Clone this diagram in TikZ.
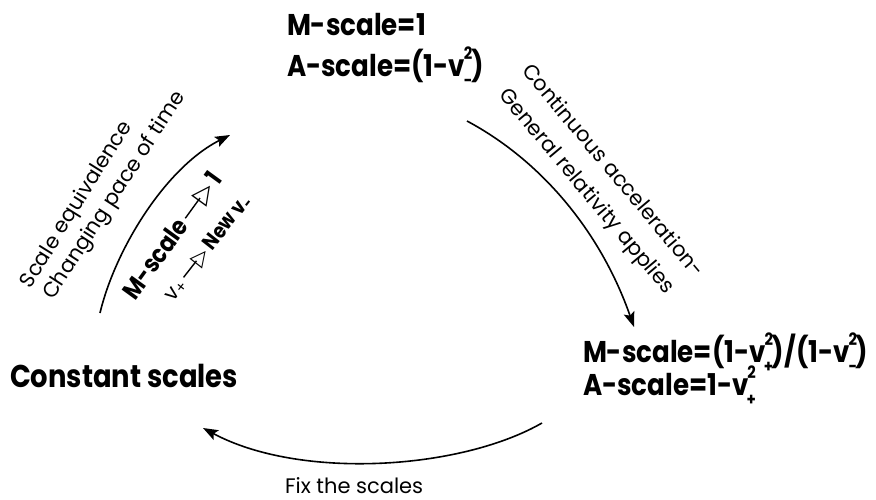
\documentclass[tikz,border=0pt]{standalone}
\usepackage{fontspec}
\setmainfont{Poppins}[BoldFeatures={FakeStretch=0.87}]
\newfontfamily\symfont{DejaVu Sans}
\usetikzlibrary{arrows.meta}
\newcommand\supsub[2]{\kern-0.04em\raisebox{0.55em}{\fontsize{17}{17}\selectfont #1}\llap{\raisebox{-0.36em}{\fontsize{17}{17}\selectfont #2}}\kern-0.04em}
\newcommand\oarrow{\raisebox{0.3em}{\rule{1.0em}{1.4pt}}\kern-0.12em{\symfont ▷}}
\begin{document}
\begin{tikzpicture}[x=1pt,y=-1pt,
  every node/.style={inner sep=0pt, outer sep=0pt},
  big/.style={font=\fontsize{30}{36}\selectfont\bfseries, anchor=base west},
  small/.style={font=\fontsize{21}{25}\selectfont},
  mid/.style={font=\fontsize{25}{28}\selectfont\bfseries},
  conn/.style={line width=1.6pt, -{Stealth[length=15pt,width=11pt,inset=3pt]}}]
\useasboundingbox (0,0) rectangle (876,499);
% state labels
\node[big] (top1) at (287,35) {M-scale=1};
\node[big] (top2) at (287,76) {A-scale=(1-v\supsub{2}{-})};
\node[big, font=\fontsize{31.5}{36}\selectfont\bfseries] (cs) at (10,387) {Constant scales};
\node[big] (br1) at (583,362) {M-scale=(1-v\supsub{2}{+})/(1-v\supsub{2}{-})};
\node[big] (br2) at (583,395) {A-scale=1-v\supsub{2}{+}};
% transition labels
\node[small, anchor=base west] (fix) at (285,493) {Fix the scales};
\node[small, rotate=-50] (ca) at (614,170) {Continuous acceleration-};
\node[small, rotate=-50] (gr) at (586,192) {General relativity applies};
\node[small, rotate=58] (se) at (77,205) {Scale equivalence};
\node[small, rotate=57] (cp) at (115,196) {Changing pace of time};
\node[mid, rotate=54] (ms) at (173,236) {M-scale\,\oarrow\,1};
\node[small, rotate=52] (nv) at (208,248) {v\textsubscript{+}\,\oarrow\,\textbf{New v\textsubscript{-}}};
% connectors
\coordinate (r0) at (467,121);
\coordinate (r1) at (634,327);
\draw[conn] (r0) .. controls (540,160) and (600,230) .. (r1);
\coordinate (b0) at (542,423);
\coordinate (b1) at (203,428);
\draw[conn] (b0) .. controls (460,470) and (300,480) .. (b1);
\coordinate (l0) at (100,313);
\coordinate (l1) at (230,135);
\draw[conn] (l0) .. controls (115,250) and (165,168) .. (l1);
\end{tikzpicture}
\end{document}
